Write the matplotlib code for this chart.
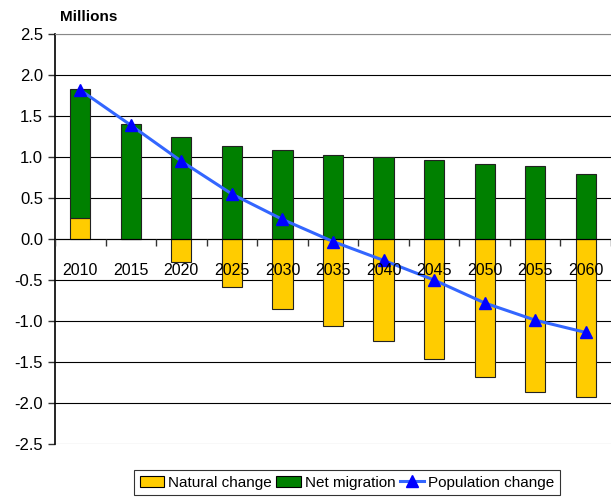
import numpy as np
import matplotlib
matplotlib.use("Agg")
import matplotlib.pyplot as plt
from matplotlib.patches import Patch
from matplotlib.lines import Line2D

plt.rcParams['font.family'] = ['Liberation Sans', 'DejaVu Sans']

years = ['2010', '2015', '2020', '2025', '2030', '2035', '2040', '2045', '2050', '2055', '2060']
natural_change = [0.26, 0.0, -0.28, -0.59, -0.85, -1.06, -1.25, -1.47, -1.69, -1.87, -1.93]
net_migration = [1.57, 1.40, 1.25, 1.14, 1.09, 1.03, 1.00, 0.97, 0.92, 0.89, 0.80]
population_change = [1.82, 1.39, 0.95, 0.55, 0.24, -0.03, -0.26, -0.50, -0.78, -0.99, -1.14]
yticks = [2.5, 2.0, 1.5, 1.0, 0.5, 0.0, -0.5, -1.0, -1.5, -2.0, -2.5]

fig = plt.figure(figsize=(6.11, 4.97), dpi=100)
ax = fig.add_axes([0.090, 0.107, 0.910, 0.824])

x = np.arange(len(years))
nat = np.array(natural_change)
mig = np.array(net_migration)
# excel style stacking: positive parts stack upwards, negative parts downwards
pos_base = np.where(nat > 0, nat, 0)

ax.bar(x, nat, width=0.4, color='#FFCC00', edgecolor='#222222', linewidth=0.8, zorder=2)
ax.bar(x, mig, bottom=pos_base, width=0.4, color='#008000', edgecolor='#222222', linewidth=0.8, zorder=2)
ax.plot(x, population_change, color='#3366FF', linewidth=2.2, zorder=3)
ax.plot(x, population_change, linestyle='none', marker='^', markersize=8,
        color='#0000FF', zorder=4)

ax.set_xlim(-0.5, len(years) - 0.5)
ax.set_ylim(-2.5, 2.5)
ax.set_yticks(yticks)
ax.set_yticklabels(['%.1f' % v for v in yticks])
ax.yaxis.grid(True, color='black', linewidth=0.8)
ax.set_axisbelow(True)
for gl, v in zip(ax.yaxis.get_gridlines(), ax.get_yticks()):
    if abs(v) > 2.4:
        gl.set_color('#888888')

ax.set_xticks(x)
ax.set_xticklabels(years)
ax.set_xticks(np.arange(len(years) + 1) - 0.5, minor=True)
ax.tick_params(axis='x', which='major', length=0, pad=17, labelsize=11.5)
ax.tick_params(axis='x', which='minor', length=5, width=1, direction='out', color='#333333')
ax.tick_params(axis='y', length=5, width=1, direction='out', color='#333333', labelsize=12)
ax.xaxis.set_zorder(5)

ax.spines['bottom'].set_position(('data', 0))
ax.spines['bottom'].set_color('black')
ax.spines['right'].set_visible(False)
ax.spines['top'].set_color('#888888')
ax.spines['left'].set_color('black')
ax.spines['left'].set_linewidth(1.2)

fig.text(0.098, 0.965, 'Millions', fontsize=11, fontweight='bold', ha='left', va='center')

handles = [Patch(facecolor='#FFCC00', edgecolor='black', linewidth=0.8),
           Patch(facecolor='#008000', edgecolor='black', linewidth=0.8),
           Line2D([0], [0], color='#3366FF', linewidth=2.2, marker='^', markersize=8,
                  markerfacecolor='#0000FF', markeredgecolor='#0000FF')]
leg = fig.legend(handles, ['Natural change', 'Net migration', 'Population change'],
                 loc='upper center', bbox_to_anchor=(0.568, 0.054), ncol=3, fontsize=11,
                 frameon=True, fancybox=False, edgecolor='black', borderpad=0.35,
                 handlelength=1.6, handletextpad=0.25, columnspacing=0.3, borderaxespad=0)
leg.get_frame().set_linewidth(0.8)

fig.savefig('out.png', dpi=100)
